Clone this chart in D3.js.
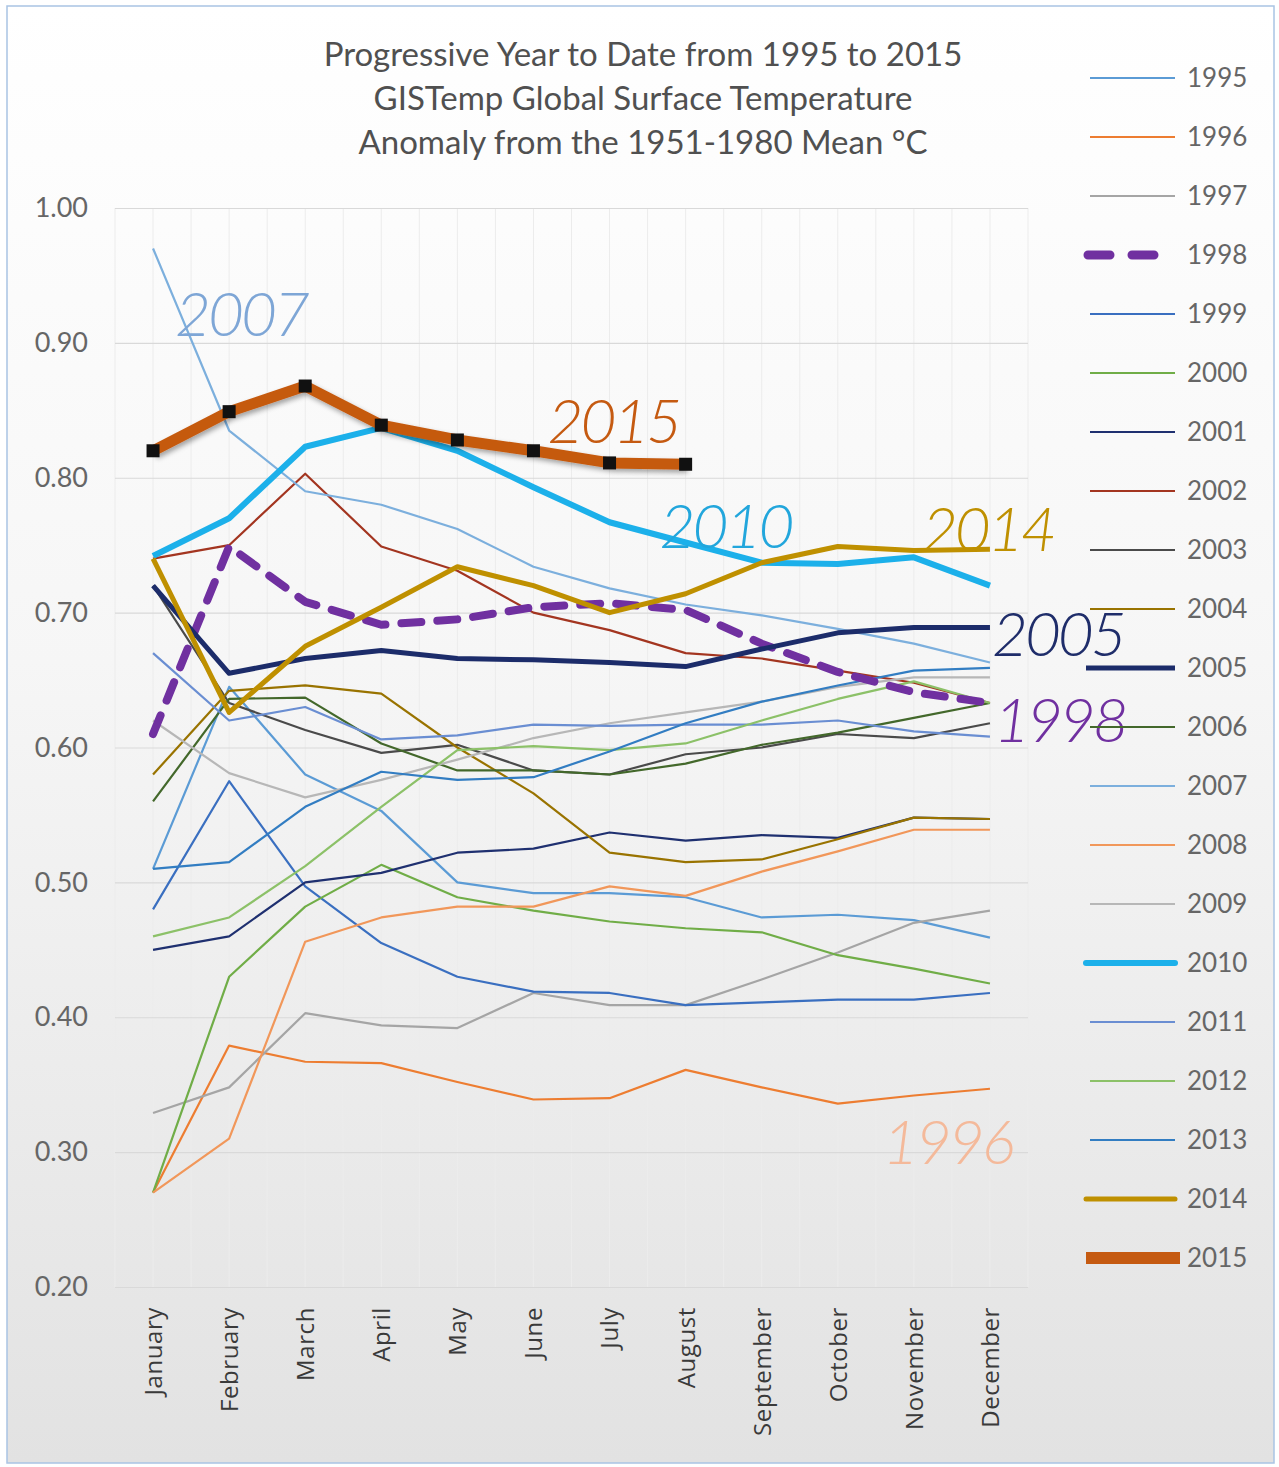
<!DOCTYPE html>
<meta charset="utf-8">
<style>
  body { margin: 0; background: #fff; }
  text { font-family: Lato, "Open Sans", sans-serif; }
  .grid line { stroke: #d9d9d9; stroke-width: 1.2px; }
  .vgrid line { stroke: #ececec; stroke-width: 1px; }
  .ytick { fill: #666; font-size: 27px; }
  .xtick { fill: #3a3a3a; font-size: 24px; font-family: "Open Sans", sans-serif; letter-spacing: 0.6px; }
  .legend text { fill: #666; font-size: 26px; }
  .title { fill: #505050; font-size: 33px; }
  .note { font-size: 62px; font-style: italic; font-weight: 300; letter-spacing: -3px; }
</style>
<body>
<div id="chart"></div>
<script src="https://d3js.org/d3.v7.min.js"></script>
<script>
  // --- data (GISTemp year-to-date anomalies) ---
  var months = ["January", "February", "March", "April", "May", "June", "July",
    "August", "September", "October", "November", "December"];
  var yTicks = [0.20, 0.30, 0.40, 0.50, 0.60, 0.70, 0.80, 0.90, 1.00];
  var years = [1995, 1996, 1997, 1998, 1999, 2000, 2001, 2002, 2003, 2004, 2005,
    2006, 2007, 2008, 2009, 2010, 2011, 2012, 2013, 2014, 2015];

  var y1995 = [0.51, 0.645, 0.58, 0.553, 0.50, 0.492, 0.492, 0.489, 0.474, 0.476, 0.472, 0.459];
  var y1996 = [0.27, 0.379, 0.367, 0.366, 0.352, 0.339, 0.34, 0.361, 0.348, 0.336, 0.342, 0.347];
  var y1997 = [0.329, 0.348, 0.403, 0.394, 0.392, 0.418, 0.409, 0.409, 0.428, 0.448, 0.47, 0.479];
  var y1998 = [0.61, 0.749, 0.708, 0.691, 0.695, 0.704, 0.707, 0.702, 0.677, 0.656, 0.641, 0.633];
  var y1999 = [0.48, 0.575, 0.497, 0.455, 0.43, 0.419, 0.418, 0.409, 0.411, 0.413, 0.413, 0.418];
  var y2000 = [0.27, 0.43, 0.482, 0.513, 0.489, 0.479, 0.471, 0.466, 0.463, 0.446, 0.436, 0.425];
  var y2001 = [0.45, 0.46, 0.50, 0.507, 0.522, 0.525, 0.537, 0.531, 0.535, 0.533, 0.548, 0.547];
  var y2002 = [0.74, 0.75, 0.803, 0.749, 0.731, 0.70, 0.687, 0.67, 0.666, 0.657, 0.648, 0.633];
  var y2003 = [0.72, 0.633, 0.613, 0.596, 0.602, 0.583, 0.58, 0.595, 0.60, 0.61, 0.607, 0.618];
  var y2004 = [0.58, 0.642, 0.646, 0.64, 0.60, 0.566, 0.522, 0.515, 0.517, 0.532, 0.548, 0.547];
  var y2005 = [0.72, 0.655, 0.666, 0.672, 0.666, 0.665, 0.663, 0.66, 0.673, 0.685, 0.689, 0.689];
  var y2006 = [0.56, 0.636, 0.637, 0.603, 0.583, 0.583, 0.58, 0.588, 0.602, 0.611, 0.622, 0.633];
  var y2007 = [0.97, 0.835, 0.79, 0.78, 0.762, 0.734, 0.718, 0.706, 0.698, 0.688, 0.677, 0.663];
  var y2008 = [0.27, 0.31, 0.456, 0.474, 0.482, 0.482, 0.497, 0.49, 0.508, 0.523, 0.539, 0.539];
  var y2009 = [0.62, 0.581, 0.563, 0.576, 0.591, 0.607, 0.618, 0.626, 0.634, 0.645, 0.652, 0.652];
  var y2010 = [0.742, 0.77, 0.823, 0.837, 0.82, 0.793, 0.767, 0.752, 0.737, 0.736, 0.741, 0.72];
  var y2011 = [0.67, 0.62, 0.63, 0.606, 0.609, 0.617, 0.616, 0.617, 0.617, 0.62, 0.612, 0.608];
  var y2012 = [0.46, 0.474, 0.512, 0.556, 0.598, 0.601, 0.598, 0.603, 0.62, 0.636, 0.649, 0.633];
  var y2013 = [0.51, 0.515, 0.556, 0.582, 0.576, 0.578, 0.597, 0.618, 0.634, 0.646, 0.657, 0.659];
  var y2014 = [0.74, 0.626, 0.675, 0.704, 0.734, 0.72, 0.70, 0.714, 0.737, 0.749, 0.746, 0.747];
  var y2015 = [0.82, 0.849, 0.868, 0.839, 0.828, 0.82, 0.811, 0.81];

  var values = [y1995, y1996, y1997, y1998, y1999, y2000, y2001, y2002, y2003, y2004, y2005,
    y2006, y2007, y2008, y2009, y2010, y2011, y2012, y2013, y2014, y2015];

  // hand written notes on the chart: label, month, value
  var notes = [
    { t: "2007", m: "January", v: 0.905, dx: 22, c: "#7ea6d6" },
    { t: "2015", m: "June", v: 0.826, dx: 14, c: "#c55a11" },
    { t: "2010", m: "July", v: 0.748, dx: 50, c: "#22a6dc" },
    { t: "2014", m: "November", v: 0.746, dx: 8, c: "#bf9000" },
    { t: "2005", m: "December", v: 0.668, dx: 2, c: "#1f2d6a" },
    { t: "1998", m: "December", v: 0.604, dx: 4, c: "#7030a0" },
    { t: "1996", m: "October", v: 0.291, dx: 45, c: "#f4b99a" }
  ];

  // --- styles per year ---
  var colors = {
    1995: "#5b9bd5", 1996: "#ed7d31", 1997: "#a5a5a5", 1998: "#7030a0", 1999: "#3a6fc0",
    2000: "#70ad47", 2001: "#1f3070", 2002: "#a33520", 2003: "#4a4a4a", 2004: "#997300",
    2005: "#1c2c6a", 2006: "#43682b", 2007: "#7cafdd", 2008: "#f1975a", 2009: "#b7b7b7",
    2010: "#1cb0ea", 2011: "#6a8ed2", 2012: "#8cc168", 2013: "#327dc2", 2014: "#bf9000",
    2015: "#c55a11"
  };
  var widths = { 1998: 8, 2005: 5, 2010: 6, 2014: 5, 2015: 11 };

  var W = 1279, H = 1467;
  var svg = d3.select("#chart").append("svg")
    .attr("width", W).attr("height", H);

  var defs = svg.append("defs");
  var grad = defs.append("linearGradient").attr("id", "bg")
    .attr("x1", 0).attr("y1", 0).attr("x2", 0).attr("y2", 1);
  grad.append("stop").attr("offset", "0%").attr("stop-color", "#ffffff");
  grad.append("stop").attr("offset", "45%").attr("stop-color", "#f6f6f6");
  grad.append("stop").attr("offset", "100%").attr("stop-color", "#e2e2e2");

  var shadow = defs.append("filter").attr("id", "shadow")
    .attr("x", "-5%").attr("y", "-20%").attr("width", "110%").attr("height", "160%");
  shadow.append("feDropShadow").attr("dx", 2).attr("dy", 3)
    .attr("stdDeviation", 2.5).attr("flood-color", "#000").attr("flood-opacity", 0.35);

  svg.append("rect").attr("x", 7).attr("y", 6).attr("width", W - 12).attr("height", H - 10)
    .attr("fill", "url(#bg)").attr("stroke", "#a9c4e4").attr("stroke-width", 1.5);

  var x = d3.scalePoint().domain(months).range([115, 1028]).padding(0.5);
  var y = d3.scaleLinear().domain([0.2, 1.0]).range([1287, 208]);

  // faint vertical minor grid
  var step = x.step() / 2;
  svg.append("g").attr("class", "vgrid")
    .selectAll("line").data(d3.range(25)).enter().append("line")
    .attr("x1", function (d) { return 115 + d * step; })
    .attr("x2", function (d) { return 115 + d * step; })
    .attr("y1", y(1.0)).attr("y2", y(0.2));

  // horizontal grid + y labels
  var yAxis = svg.append("g").attr("class", "grid")
    .attr("transform", "translate(115,0)")
    .call(d3.axisLeft(y).tickValues(yTicks).tickSize(-913).tickPadding(27)
      .tickFormat(d3.format(".2f")));
  yAxis.select(".domain").remove();
  yAxis.selectAll("text").attr("class", "ytick").attr("dy", "0.32em");

  // x labels (rotated)
  var xAxis = svg.append("g")
    .attr("transform", "translate(0," + y(0.2) + ")")
    .call(d3.axisBottom(x).tickSize(0).tickPadding(0));
  xAxis.select(".domain").remove();
  xAxis.selectAll("text")
    .attr("class", "xtick")
    .attr("transform", "rotate(-90)")
    .attr("x", -20).attr("y", 0).attr("dy", "0.35em")
    .style("text-anchor", "end");

  // title
  var title = ["Progressive Year to Date from 1995 to 2015",
    "GISTemp Global Surface Temperature",
    "Anomaly from the 1951-1980 Mean \u00B0C"];
  svg.append("g").selectAll("text").data(title).enter().append("text")
    .attr("class", "title")
    .attr("x", 643).attr("y", function (d, i) { return 66 + i * 44; })
    .attr("text-anchor", "middle")
    .text(function (d) { return d; });

  var line = d3.line()
    .x(function (d, i) { return x(months[i]); })
    .y(function (d) { return y(d); });

  // draw thin series first, highlighted ones on top
  var order = years.map(function (yr, i) { return i; });
  var highlight = [1998, 2005, 2010, 2014, 2015];
  order.sort(function (a, b) {
    var ha = highlight.indexOf(years[a]), hb = highlight.indexOf(years[b]);
    return (ha < 0 ? -1 : ha) - (hb < 0 ? -1 : hb) || a - b;
  });

  var lines = svg.append("g");
  order.forEach(function (i) {
    var yr = years[i];
    var p = lines.append("path")
      .datum(values[i])
      .attr("fill", "none")
      .attr("stroke", colors[yr])
      .attr("stroke-width", widths[yr] || 2.2)
      .attr("stroke-linejoin", "round")
      .attr("d", line);
    if (yr === 1998) p.attr("stroke-dasharray", "20,16").attr("stroke-linecap", "round");
    if (yr === 2015) p.attr("filter", "url(#shadow)");
  });

  // 2015 markers
  lines.append("g").selectAll("rect").data(y2015).enter().append("rect")
    .attr("x", function (d, i) { return x(months[i]) - 6.5; })
    .attr("y", function (d) { return y(d) - 6.5; })
    .attr("width", 13).attr("height", 13)
    .attr("fill", "#111");

  // notes
  svg.append("g").selectAll("text").data(notes).enter().append("text")
    .attr("class", "note")
    .attr("x", function (d) { return x(d.m) + d.dx; })
    .attr("y", function (d) { return y(d.v); })
    .attr("fill", function (d) { return d.c; })
    .text(function (d) { return d.t; });

  // legend
  var leg = svg.append("g").attr("class", "legend")
    .selectAll("g").data(years).enter().append("g")
    .attr("transform", function (d, i) { return "translate(0," + (78 + i * 59) + ")"; });
  leg.append("line")
    .attr("x1", function (d) { return d === 1998 ? 1088 : (widths[d] ? 1086 : 1090); })
    .attr("x2", function (d) { return d === 1998 ? 1160 : (d === 2015 ? 1180 : 1175); })
    .attr("stroke", function (d) { return colors[d]; })
    .attr("stroke-width", function (d) { return d === 1998 ? 9 : (d === 2015 ? 12 : (widths[d] || 2.2)); })
    .attr("stroke-dasharray", function (d) { return d === 1998 ? "22,22" : null; })
    .attr("stroke-linecap", function (d) { return d === 1998 || d === 2010 || d === 2014 ? "round" : "butt"; });
  leg.append("text")
    .attr("x", 1187).attr("dy", "0.36em")
    .text(function (d) { return d; });
</script>
</body>
